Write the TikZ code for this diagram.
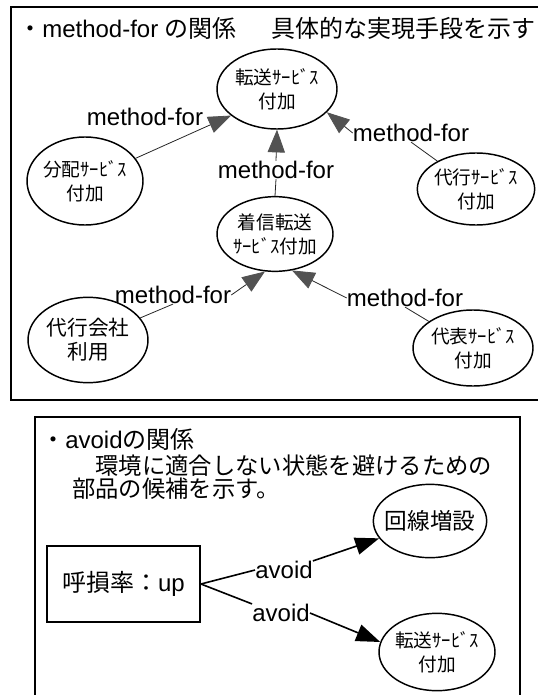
\documentclass[tikz,border=0pt]{standalone}
\usepackage{fontspec}
\setmainfont{Liberation Sans}
\newfontfamily\jp{Noto Sans CJK JP}
\usetikzlibrary{shapes.geometric,arrows.meta}

\begin{document}
\begin{tikzpicture}[x=0.75pt,y=0.75pt,
		every node/.style={inner sep=0pt},
		bub/.style={draw,ellipse,line width=1.1pt,inner xsep=-4pt,align=center,font=\jp\fontsize{14}{18}\selectfont},
		lbl/.style={font=\fontsize{18}{20}\selectfont},
		txt/.style={anchor=base west,font=\fontsize{18}{20}\selectfont},
		mline/.style={line width=0.6pt,black!85},
		mfor/.style={mline,-{Triangle[length=17pt,width=13pt,color=black!68]}},
		aline/.style={line width=1.2pt},
		avd/.style={aline,-{Triangle[length=18pt,width=13pt]}}]
		\useasboundingbox (0,0) rectangle (537,-695);
		\draw [line width=1.2pt] (11,-7) rectangle (545,-400);
		\draw [line width=1.2pt] (35,-705) -- (35,-417) -- (520,-417) -- (520,-705);
		\node [txt] (ttl1) at (18,-38) {{\jp ・}method-for {\jp の関係}\hspace{26pt}{\jp 具体的な実現手段を示す}};
		\node [bub,minimum width=90pt,minimum height=60pt] (tensou) at (277,-89) {転送ｻｰﾋﾞｽ\\付加};
		\node [bub,minimum width=87pt,minimum height=66pt] (bunpai) at (85,-181) {分配ｻｰﾋﾞｽ\\付加};
		\node [bub,minimum width=88pt,minimum height=54pt] (daikou) at (476,-189) {代行ｻｰﾋﾞｽ\\付加};
		\node [bub,minimum width=87pt,minimum height=56pt] (chakushin) at (275,-234) {着信転送\\ｻｰﾋﾞｽ付加};
		\node [bub,minimum width=90pt,minimum height=64pt,font=\jp\fontsize{15.5}{18}\selectfont] (kaisha) at (88,-340) {代行会社\\利用};
		\node [bub,minimum width=90pt,minimum height=57pt] (daihyou) at (473,-348) {代表ｻｰﾋﾞｽ\\付加};
		\node [lbl] (lab1) at (145,-117) {method-for};
		\node [lbl] (lab2) at (276,-170) {method-for};
		\node [lbl] (lab3) at (411,-133) {method-for};
		\node [lbl] (lab4) at (173,-295) {method-for};
		\node [lbl] (lab5) at (405,-298) {method-for};
		\draw [mfor] (bunpai) -- (tensou.210);
		\draw [mfor] (lab2.north) -- (tensou.south);
		\draw [mline] (chakushin.north) -- (lab2.south);
		\draw [mfor] (lab3.west) -- (tensou.335);
		\draw [mline] (daikou) -- (lab3.south);
		\draw [mline] (kaisha) -- (lab4.south);
		\draw [mfor] (lab4.east) -- (chakushin.255);
		\draw [mline] (daihyou) -- (lab5.south);
		\draw [mfor] (lab5.west) -- (chakushin.295);
		\node [txt] (ttl2) at (41,-448) {{\jp ・}avoid{\jp の関係}};
		\node [txt,font=\jp\fontsize{17.5}{20}\selectfont] (desc1) at (72,-474) {　環境に適合しない状態を避けるための};
		\node [txt,font=\jp\fontsize{17.5}{20}\selectfont] (desc2) at (72,-497) {部品の候補を示す。};
		\node [draw,line width=1.1pt,minimum width=115pt,minimum height=57pt,font=\fontsize{18}{20}\selectfont] (up) at (123.5,-584) {{\jp 呼損率：}up};
		\node [bub,minimum width=85pt,minimum height=55pt,font=\jp\fontsize{17}{20}\selectfont] (kaisen) at (430,-521) {回線増設};
		\node [bub,minimum width=87pt,minimum height=58pt] (tensou2) at (437,-652) {転送ｻｰﾋﾞｽ\\付加};
		\node [lbl] (avoidA) at (284,-570) {avoid};
		\node [lbl] (avoidB) at (281,-613) {avoid};
		\draw [aline] (up.east) -- (avoidA.west);
		\draw [avd] (avoidA.north east) -- (kaisen);
		\draw [aline] (up.east) -- (avoidB.north west);
		\draw [avd] (avoidB.east) -- (tensou2.170);
	\end{tikzpicture}
\end{document}
